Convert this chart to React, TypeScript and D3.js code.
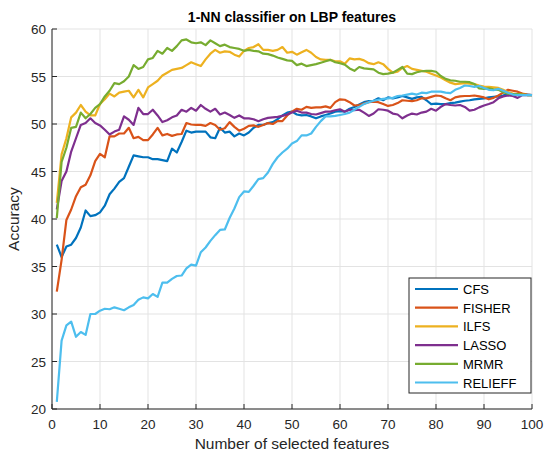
import React from "react";
import * as d3 from "d3";

const xTicks = [0, 10, 20, 30, 40, 50, 60, 70, 80, 90, 100];
const yTicks = [20, 25, 30, 35, 40, 45, 50, 55, 60];
const seriesNames = ["CFS", "FISHER", "ILFS", "LASSO", "MRMR", "RELIEFF"];
const seriesColors = ["#0072BD", "#D95319", "#EDB120", "#7E2F8E", "#77AC30", "#4DBEEE"];

const CFS = [37.3, 36.0, 37.1, 37.3, 38.0, 39.1, 40.9, 40.3, 40.4, 40.7,
  41.4, 42.6, 43.2, 43.9, 44.3, 45.5, 46.7, 46.6, 46.5, 46.5,
  46.3, 46.3, 46.2, 46.1, 47.4, 47.0, 48.1, 49.3, 49.1, 49.2,
  49.2, 49.2, 48.6, 48.5, 49.6, 49.1, 49.2, 48.7, 49.0, 48.8,
  49.1, 49.6, 49.9, 49.9, 50.1, 50.2, 50.5, 50.9, 51.2, 51.3,
  51.0, 50.9, 50.95, 50.8, 50.6, 50.8, 50.95, 51.1, 51.3, 51.35,
  51.3, 51.6, 51.8, 52.05, 52.3, 52.4, 52.45, 52.7, 52.5, 52.8,
  52.7, 52.8, 52.95, 52.8, 52.65, 52.8, 52.85, 52.5, 52.1, 52.15,
  52.1, 52.1, 52.2, 52.25, 52.35, 52.45, 52.5, 52.6, 52.65, 52.7,
  52.8, 52.85, 52.9, 53.0, 53.2, 53.1, 53.1, 53.1, 53.1, 53.05];

const FISHER = [32.35, 35.7, 39.9, 41.0, 42.4, 43.35, 43.6, 44.6, 46.1, 46.85,
  46.5, 48.7, 48.7, 49.0, 49.0, 49.6, 48.5, 48.65, 48.3, 48.3,
  48.9, 49.6, 48.8, 48.95, 48.75, 48.9, 48.95, 50.1, 49.95, 49.9,
  49.9, 49.8, 50.1, 49.9, 49.4, 49.55, 50.2, 49.7, 49.3, 49.5,
  49.8, 49.85, 49.7, 49.9, 50.1, 50.0, 50.3, 50.3, 50.9, 51.3,
  51.6, 51.5, 51.8, 51.7, 51.75, 51.75, 51.85, 51.7, 52.3, 52.6,
  52.55, 52.3, 51.95, 52.0, 52.15, 52.3, 52.35, 52.3, 52.1, 51.9,
  52.0, 52.2, 52.5, 52.45, 52.4, 52.5, 52.7, 52.7, 52.85, 53.0,
  52.95, 52.7, 52.5, 52.8, 52.9, 52.95, 52.95, 53.0, 52.9, 52.8,
  52.6, 52.75, 53.0, 53.3, 53.6, 53.5, 53.4, 53.2, 53.1, 53.05];

const ILFS = [41.7, 46.8, 48.5, 50.7, 51.2, 52.0, 51.3, 50.9, 50.9, 52.1,
  52.6, 53.2, 52.9, 53.3, 53.4, 53.5, 52.8, 53.6, 52.8, 53.85,
  54.2, 54.55, 55.1, 55.4, 55.7, 55.8, 55.9, 56.2, 56.5, 56.3,
  56.1, 56.8, 57.4, 57.8, 57.5, 57.65, 57.6, 57.3, 57.1, 57.7,
  58.0, 58.1, 58.4, 57.8, 57.8, 57.7, 57.8, 58.1, 57.5, 57.6,
  57.3, 57.55, 57.8, 57.5, 57.05, 56.8, 56.75, 56.75, 56.6, 56.6,
  56.35, 56.9, 56.8, 56.85, 56.7, 56.4, 56.3, 56.5, 56.3, 55.8,
  55.4, 55.5, 55.9, 56.1, 55.8, 55.7, 55.6, 55.5, 55.3, 55.1,
  54.9, 54.6, 54.35, 54.2, 54.25, 54.3, 54.25, 54.2, 54.05, 53.95,
  53.9, 53.85, 53.8, 53.6, 53.35, 53.2, 53.1, 53.1, 53.05, 53.05];

const LASSO = [41.0, 44.0, 45.0, 47.1, 48.5, 49.9, 50.1, 50.6, 50.1, 49.85,
  49.4, 48.9, 49.2, 49.4, 50.8, 50.45, 49.9, 51.7, 51.05, 51.05,
  51.5, 50.9, 50.2, 50.4, 50.7, 50.9, 51.5, 51.3, 51.7, 51.4,
  52.0, 51.6, 51.3, 51.6, 51.0, 51.2, 50.95, 50.65, 50.9, 50.6,
  50.6, 50.5, 50.3, 50.5, 50.65, 50.7, 50.75, 50.85, 51.0, 51.2,
  51.4, 51.2, 51.2, 51.05, 51.0, 51.15, 51.3, 51.3, 51.45, 51.55,
  51.3, 51.5, 51.45, 51.5, 51.2, 50.85, 51.1, 51.55, 51.5, 51.4,
  51.1, 51.0, 50.6, 50.9, 51.1, 51.0, 51.2, 51.3, 51.6, 51.4,
  51.8, 52.1, 52.0, 51.95, 52.0, 51.8, 51.4, 51.5, 51.75, 51.95,
  52.1, 52.3, 52.7, 52.9, 53.0, 52.95, 52.75, 53.05, 53.05, 53.05];

const MRMR = [40.1, 46.0, 47.5, 49.6, 49.7, 51.2, 50.6, 51.05, 51.7, 52.1,
  52.9, 53.5, 54.3, 54.2, 54.5, 55.0, 56.2, 55.8, 56.0, 56.8,
  56.95, 57.7, 57.4, 58.0, 57.7, 58.2, 58.8, 58.9, 58.6, 58.5,
  58.6, 58.3, 58.8, 58.5, 58.2, 58.35, 58.1, 58.0, 57.9, 57.7,
  57.8, 57.7, 57.65, 57.4, 57.35, 57.2, 57.0, 56.85, 56.7, 56.65,
  56.2, 56.35, 56.1, 56.2, 56.3, 56.45, 56.6, 56.75, 56.5, 56.4,
  56.25, 55.85, 55.6, 56.0, 55.85, 55.8, 55.75, 55.4, 55.25, 55.3,
  55.4, 55.7, 56.0, 55.3, 55.25, 55.45, 55.55, 55.6, 55.6, 55.5,
  55.05, 54.75, 54.6, 54.55, 54.45, 54.45, 54.4, 54.2, 53.75, 53.7,
  53.75, 53.65, 53.6, 53.35, 53.2, 53.15, 53.15, 53.1, 53.05, 53.05];

const RELIEFF = [20.75, 27.2, 28.8, 29.2, 27.6, 28.1, 27.8, 30.0, 30.0, 30.35,
  30.55, 30.5, 30.7, 30.55, 30.4, 30.7, 30.95, 31.5, 31.75, 31.65,
  32.1, 31.8, 33.3, 33.3, 33.7, 34.0, 34.05, 34.8, 35.2, 35.1,
  36.5, 37.0, 37.7, 38.3, 38.85, 38.9, 40.1, 41.1, 42.3, 42.9,
  42.85, 43.5, 44.2, 44.3, 44.9, 45.8, 46.5, 47.0, 47.4, 47.95,
  48.2, 48.8, 48.8, 49.0, 49.7, 50.3, 50.8, 50.8, 50.85, 50.95,
  51.05, 51.2, 51.5, 51.8, 52.1, 52.3, 52.45, 52.55, 52.65, 52.7,
  52.75, 52.95, 53.0, 53.1, 53.2, 53.1, 53.3, 53.25, 53.4, 53.4,
  53.4, 53.3, 53.25, 53.6, 53.8, 54.05, 54.0, 53.9, 54.0, 53.8,
  53.6, 53.55, 53.7, 53.5, 53.3, 53.1, 53.05, 53.05, 53.05, 53.05];

const seriesData = [CFS, FISHER, ILFS, LASSO, MRMR, RELIEFF];

const W = 545;
const H = 459;
const M = { left: 52, right: 13, top: 29, bottom: 50 };
const FONT = "'Liberation Sans', Arial, Helvetica, sans-serif";

export default function App() {
  const x = d3.scaleLinear().domain([0, 100]).range([M.left, W - M.right]);
  const y = d3.scaleLinear().domain([20, 60]).range([H - M.bottom, M.top]);
  const line = d3
    .line<number>()
    .x((_, i) => x(i + 1))
    .y((d) => y(d));

  const x0 = x(0);
  const x1 = x(100);
  const y0 = y(20);
  const y1 = y(60);
  const axisColor = "#262626";
  const gridColor = "#e3e3e3";

  const legX = 409;
  const legY = 278;
  const legW = 122;
  const legRow = 18.7;
  const legH = 115;

  return (
    <svg width={W} height={H} style={{ position: "absolute", left: 0, top: 0, background: "#fff" }} fontFamily={FONT}>
      <rect x={0} y={0} width={W} height={H} fill="#fff" />
      {xTicks.map((t) => (
        <line key={"gx" + t} x1={x(t)} x2={x(t)} y1={y0} y2={y1} stroke={gridColor} strokeWidth={1} />
      ))}
      {yTicks.map((t) => (
        <line key={"gy" + t} x1={x0} x2={x1} y1={y(t)} y2={y(t)} stroke={gridColor} strokeWidth={1} />
      ))}
      {seriesData.map((s, i) => (
        <path key={seriesNames[i]} d={line(s) || ""} fill="none" stroke={seriesColors[i]} strokeWidth={2.2} strokeLinejoin="round" />
      ))}
      <line x1={x0} x2={x0} y1={y0} y2={y1} stroke={axisColor} strokeWidth={1} />
      <line x1={x0} x2={x1} y1={y0} y2={y0} stroke={axisColor} strokeWidth={1} />
      {xTicks.map((t) => (
        <g key={"tx" + t}>
          <line x1={x(t)} x2={x(t)} y1={y0} y2={y0 - 5} stroke={axisColor} strokeWidth={1} />
          <text x={x(t)} y={y0 + 20} textAnchor="middle" fontSize={13.5} fill={axisColor}>
            {t}
          </text>
        </g>
      ))}
      {yTicks.map((t) => (
        <g key={"ty" + t}>
          <line x1={x0} x2={x0 + 5} y1={y(t)} y2={y(t)} stroke={axisColor} strokeWidth={1} />
          <text x={x0 - 6} y={y(t) + 5} textAnchor="end" fontSize={13.5} fill={axisColor}>
            {t}
          </text>
        </g>
      ))}
      <text x={(x0 + x1) / 2} y={449} textAnchor="middle" fontSize={15.5} fill={axisColor}>
        Number of selected features
      </text>
      <text
        transform={`translate(${19},${(y0 + y1) / 2}) rotate(-90)`}
        textAnchor="middle"
        fontSize={15.5}
        fill={axisColor}
      >
        Accuracy
      </text>
      <text x={(x0 + x1) / 2} y={22} textAnchor="middle" fontSize={14} fontWeight="bold" fill="#000">
        1-NN classifier on LBP features
      </text>
      <rect x={legX} y={legY} width={legW} height={legH} fill="#fff" stroke={axisColor} strokeWidth={1} />
      {seriesNames.map((n, i) => {
        const ry = legY + 11 + i * legRow;
        return (
          <g key={"leg" + n}>
            <line x1={legX + 6} x2={legX + 49} y1={ry} y2={ry} stroke={seriesColors[i]} strokeWidth={2.2} />
            <text x={legX + 54} y={ry + 5} fontSize={13} fill="#000">
              {n}
            </text>
          </g>
        );
      })}
    </svg>
  );
}
